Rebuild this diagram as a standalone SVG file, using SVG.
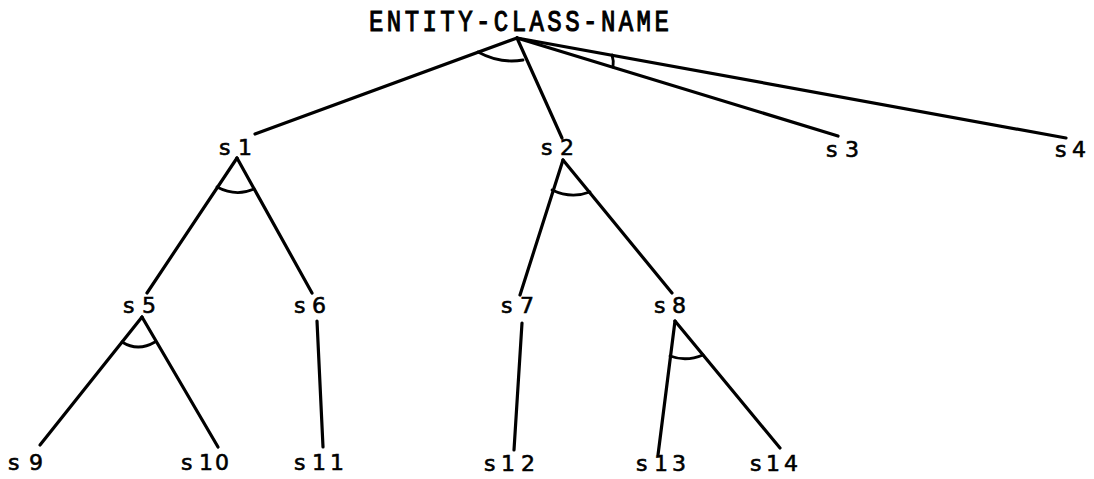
<svg xmlns="http://www.w3.org/2000/svg" width="1094" height="479" viewBox="0 0 1094 479">
  <style>
    .edge { stroke: #000; stroke-width: 3.2; stroke-linecap: round; fill: none; }
    .arc { stroke: #000; stroke-width: 2.8; fill: none; stroke-linecap: round; }
    .title { font-family: "Liberation Mono", "DejaVu Sans Mono", monospace; font-size: 30px; letter-spacing: 4.3px; fill: #000; stroke: #000; stroke-width: 1.1; }
    .lbl { font-family: "DejaVu Sans", "Liberation Sans", sans-serif; font-size: 22px; fill: #000; stroke: #000; stroke-width: 0.6; }
  </style>
  <rect width="1094" height="479" fill="#fff"/>

  <!-- tree edges and AND-arcs -->
  <g id="connectors">
    <line class="edge" x1="517" y1="38" x2="255" y2="134"/>
    <line class="edge" x1="517" y1="38" x2="562" y2="138"/>
    <line class="edge" x1="517" y1="38" x2="838" y2="136"/>
    <line class="edge" x1="517" y1="38" x2="1066" y2="138"/>
    <path class="arc" d="M478,52 Q500,64 523,60"/>
    <path class="arc" d="M612,55 Q614,61 613,67"/>

    <line class="edge" x1="237" y1="158" x2="147" y2="293"/>
    <line class="edge" x1="237" y1="158" x2="312" y2="293"/>
    <path class="arc" d="M217,187 Q236,197 254,189"/>

    <line class="edge" x1="563" y1="160" x2="520" y2="295"/>
    <line class="edge" x1="563" y1="160" x2="672" y2="293"/>
    <path class="arc" d="M552,190 Q571,199 590,192"/>

    <line class="edge" x1="142" y1="317" x2="40" y2="445"/>
    <line class="edge" x1="142" y1="317" x2="218" y2="447"/>
    <path class="arc" d="M122,342 Q138,352 155,342"/>

    <line class="edge" x1="317" y1="321" x2="323" y2="447"/>
    <line class="edge" x1="522" y1="323" x2="514" y2="450"/>

    <line class="edge" x1="675" y1="321" x2="658" y2="455"/>
    <line class="edge" x1="675" y1="321" x2="780" y2="448"/>
    <path class="arc" d="M670,356 Q686,362 703,355"/>
  </g>

  <g id="root"><text class="title" transform="translate(369,31) scale(0.8,1)">ENTITY-CLASS-NAME</text></g>

  <g id="s1"><text class="lbl" x="219 238" y="155">s1</text></g>
  <g id="s2"><text class="lbl" x="541 560" y="155">s2</text></g>
  <g id="s3"><text class="lbl" x="826 845" y="157">s3</text></g>
  <g id="s4"><text class="lbl" x="1055 1072" y="157">s4</text></g>

  <g id="s5"><text class="lbl" x="123 142" y="313">s5</text></g>
  <g id="s6"><text class="lbl" x="294 312" y="313">s6</text></g>
  <g id="s7"><text class="lbl" x="501 520" y="313">s7</text></g>
  <g id="s8"><text class="lbl" x="654 672" y="313">s8</text></g>

  <g id="s9"><text class="lbl" x="8 29" y="470">s9</text></g>
  <g id="s10"><text class="lbl" x="181 199 215" y="470">s10</text></g>
  <g id="s11"><text class="lbl" x="294 312 330" y="470">s11</text></g>
  <g id="s12"><text class="lbl" x="484 501 521" y="471">s12</text></g>
  <g id="s13"><text class="lbl" x="636 654 672" y="471">s13</text></g>
  <g id="s14"><text class="lbl" x="750 766 784" y="471">s14</text></g>
</svg>
